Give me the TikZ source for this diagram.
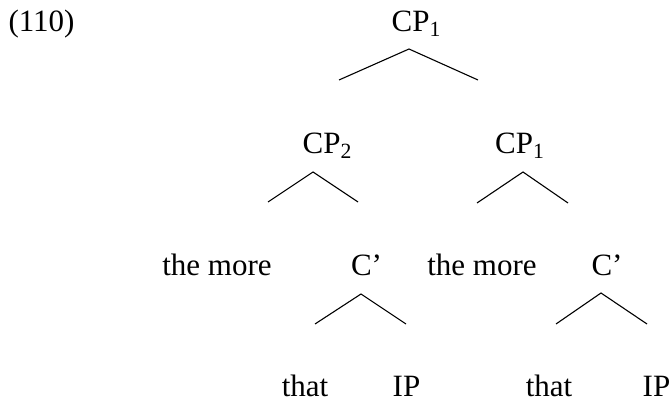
\documentclass[tikz,border=0pt]{standalone}
\usepackage{fontspec}
\setmainfont{Liberation Serif}
\usetikzlibrary{positioning}

\begin{document}
\begin{tikzpicture}[x=0.5pt,y=-0.5pt,line width=0.55pt,every node/.style={font=\fontsize{15.5}{18}\selectfont,inner sep=0pt,anchor=base}]
\useasboundingbox (0,0) rectangle (670,405);
\node[anchor=base west] (ex) at (8,32) {(110)};
% top level
\node (cpa) at (416.5,32) {CP\textsubscript{1}};
\node (cpb) at (327.5,154) {CP\textsubscript{2}};
\node (cpc) at (520,154) {CP\textsubscript{1}};
% specifiers and heads
\node (mora) at (217,276) {the more};
\node (cba) at (366.5,276) {C’};
\node (morb) at (482,276) {the more};
\node (cbb) at (607,276) {C’};
\node (tha) at (305,397) {that};
\node (ipa) at (406.5,397) {IP};
\node (thb) at (549,397) {that};
\node (ipb) at (656.5,397) {IP};
% branch points
\coordinate (cpaT) at (409,49);  \coordinate (cpaL) at (339,80);  \coordinate (cpaR) at (478,80);
\coordinate (cpbT) at (313,172); \coordinate (cpbL) at (268,202); \coordinate (cpbR) at (358,202);
\coordinate (cpcT) at (523,172); \coordinate (cpcL) at (477,203); \coordinate (cpcR) at (568,203);
\coordinate (cbaT) at (361,294); \coordinate (cbaL) at (315,324); \coordinate (cbaR) at (406,324);
\coordinate (cbbT) at (601,293); \coordinate (cbbL) at (556,324); \coordinate (cbbR) at (647,324);
\draw (cpaL) -- (cpaT) -- (cpaR);
\draw (cpbL) -- (cpbT) -- (cpbR);
\draw (cpcL) -- (cpcT) -- (cpcR);
\draw (cbaL) -- (cbaT) -- (cbaR);
\draw (cbbL) -- (cbbT) -- (cbbR);
\end{tikzpicture}
\end{document}
